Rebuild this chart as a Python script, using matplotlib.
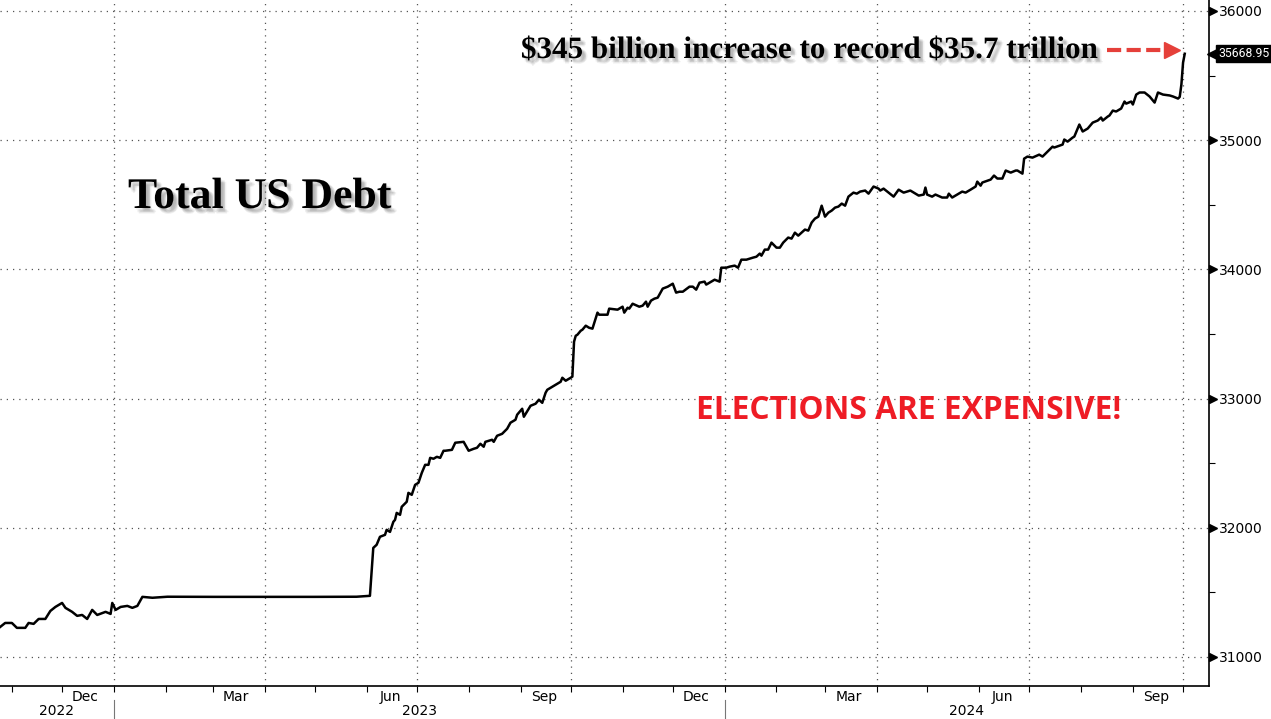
import numpy as np
import pandas as pd
import matplotlib
matplotlib.use("Agg")
import matplotlib.pyplot as plt
import matplotlib.dates as mdates
import matplotlib.transforms as mtrans
import matplotlib.patheffects as pe

# ---------------- data (days since 2023-01-01, total US debt in $bn) ----------------
base_date = "2023-01-01"
days = [-68, -65, -61, -58, -53, -51, -48, -45, -41, -38, -35, -31, -29, -25, -22, -19, -16, -13, -10, -5, -2, -1,
        1, 4, 8, 11, 14, 17, 23, 32, 60, 90, 120, 145, 153,
        155, 157, 159, 162, 163, 165, 167, 168, 169, 171, 172, 175, 176, 178, 180, 182, 184, 186, 188, 189, 191,
        193, 195, 197, 198, 202, 204, 209, 212, 215, 217, 219, 221, 222, 226, 227, 229, 232, 235, 237, 240, 241,
        244, 245, 249, 252, 254, 256, 258, 259, 262, 264, 267, 268, 270, 273, 274,
        275, 276, 277, 279, 280, 282, 284, 286, 289, 290, 295, 296, 301, 304, 305, 307, 308, 310, 314, 316, 318,
        319, 321, 323, 325, 326, 328, 331, 332, 334, 336, 338, 340, 344, 346, 348, 350, 353, 354, 357, 359, 362,
        363, 366, 368, 371, 373, 375, 378, 382, 384, 386, 387, 389, 391, 393, 396, 398, 400, 403, 405, 407, 409,
        411, 413, 415, 417, 419, 421, 423, 425, 427, 429, 431, 433, 435, 437, 439, 442, 444, 446, 449, 451, 454,
        457, 458, 460, 463, 466, 469, 472, 476, 481, 484, 485, 486, 489, 491, 495, 498, 499, 501, 504, 507, 509,
        512, 515, 516, 518, 519, 524, 526, 528, 531, 533, 536, 539, 540, 543, 544, 546, 549, 553, 555, 558, 561,
        562, 567, 568, 570, 573, 574, 577, 579, 582, 585, 588, 590, 591, 594, 595, 597, 599, 602, 604, 605, 608,
        609, 611, 613, 616, 619, 622, 624, 627, 631, 633, 636, 637, 638, 639, 640]
debt = [31232, 31263, 31263, 31225, 31225, 31263, 31256, 31294, 31294, 31356, 31387, 31418, 31380, 31349, 31318,
        31325, 31294, 31364, 31325, 31349, 31333, 31418,
        31364, 31387, 31395, 31380, 31395, 31465, 31458, 31466, 31465, 31465, 31465, 31466, 31473,
        31844, 31868, 31930, 31945, 31984, 31968, 32046, 32061, 32115, 32100, 32162, 32201, 32270, 32255, 32332,
        32348, 32425, 32487, 32487, 32541, 32534,
        32549, 32541, 32596, 32596, 32603, 32658, 32665, 32596, 32611, 32619, 32650, 32627, 32665, 32681, 32665,
        32712, 32727, 32766, 32813, 32836, 32875,
        32921, 32859, 32944, 32960, 32991, 32967, 33045, 33068, 33091, 33107, 33130, 33161, 33138, 33161, 33170,
        33440, 33486, 33494, 33525, 33533, 33564, 33548, 33541, 33665, 33649, 33649, 33696, 33688, 33711, 33665,
        33703, 33696, 33734, 33711, 33719, 33750,
        33711, 33758, 33773, 33781, 33804, 33851, 33866, 33874, 33889, 33820, 33827, 33827, 33866, 33866, 33843,
        33897, 33905, 33882, 33905, 33920, 33905,
        34013, 34013, 34021, 34029, 34013, 34075, 34075, 34091, 34098, 34122, 34106, 34153, 34153, 34207, 34168,
        34168, 34207, 34246, 34238, 34284, 34261,
        34284, 34308, 34300, 34362, 34393, 34408, 34493, 34408, 34439, 34455, 34478, 34486, 34509, 34493, 34563,
        34594, 34586, 34602, 34610, 34586, 34641,
        34625, 34610, 34625, 34594, 34563, 34617, 34594, 34610, 34571, 34579, 34633, 34579, 34563, 34579, 34556,
        34556, 34586, 34556, 34579, 34602, 34594,
        34617, 34641, 34679, 34648, 34672, 34695, 34726, 34703, 34703, 34765, 34749, 34765, 34765, 34741, 34857,
        34873, 34865, 34888, 34873, 34912, 34950,
        34943, 34966, 35005, 34989, 35020, 35028, 35121, 35067, 35090, 35136, 35152, 35175, 35152, 35183, 35191,
        35229, 35222, 35245, 35299, 35283, 35299,
        35276, 35353, 35369, 35369, 35338, 35291, 35369, 35353, 35346, 35338, 35322, 35335, 35431, 35601, 35668.95]
assert len(days) == len(debt)

y_ticks = [31000, 32000, 33000, 34000, 35000, 36000]
y_minor = [31500, 32500, 33500, 34500, 35500]
last_label = "35668.95"
title_text = "Total US Debt"
note_text = "\\$345 billion increase to record \\$35.7 trillion"
slogan_text = "ELECTIONS ARE EXPENSIVE!"
years = ["2022", "2023", "2024"]

# ---------------- figure ----------------
W, H = 1271, 719
fig = plt.figure(figsize=(W / 100, H / 100), dpi=100)
ax_left, ax_right, ax_bottom_px = 0, 1209, 686
ax = fig.add_axes([ax_left / W, 1 - ax_bottom_px / H, (ax_right - ax_left) / W, ax_bottom_px / H])

start = pd.Timestamp(base_date)
dates = start + pd.to_timedelta(days, unit="D")
ax.plot(dates, debt, color="black", lw=1.8, solid_joinstyle="round", zorder=5)

xmin = start + pd.Timedelta(days=-68.1)
xmax = start + pd.Timedelta(days=654.5)
ax.set_xlim(xmin, xmax)
ax.set_ylim(30775, 36085)

# spines
for s in ["left", "top"]:
    ax.spines[s].set_visible(False)
for s in ["bottom", "right"]:
    ax.spines[s].set_color("black")
    ax.spines[s].set_linewidth(1.2)

grid_kw = dict(color="#555555", lw=0.9, ls=(0, (1, 4)), zorder=1)
for v in y_ticks:
    ax.axhline(v, **grid_kw)
quarters = pd.date_range("2023-01-01", "2024-10-01", freq="QS")
for q in quarters:
    ax.axvline(q, **grid_kw)

# x axis ticks
ax.xaxis.set_major_locator(mdates.MonthLocator())
ax.xaxis.set_major_formatter(plt.NullFormatter())
ax.xaxis.set_minor_locator(mdates.MonthLocator(bymonth=[3, 6, 9, 12], bymonthday=15))
ax.xaxis.set_minor_formatter(mdates.DateFormatter("%b"))
ax.tick_params(axis="x", which="major", direction="out", length=4, width=0.8, color="black")
ax.tick_params(axis="x", which="minor", length=0, pad=3, labelsize=10)

# year labels
xtrans = ax.get_xaxis_transform()
year_bounds = [xmin, pd.Timestamp("2023-01-01"), pd.Timestamp("2024-01-01"), xmax]
for i, yr in enumerate(years):
    mid = year_bounds[i] + (year_bounds[i + 1] - year_bounds[i]) / 2
    ax.text(mid, -0.037, yr, transform=xtrans, ha="center", va="center", fontsize=10, clip_on=False)
for b in year_bounds[1:3]:
    ax.plot([b, b], [-0.02, -0.05], transform=xtrans, color="#777777", lw=0.8, clip_on=False)

# y axis on the right
ax.yaxis.tick_right()
ax.set_yticks(y_ticks)
ax.set_yticks(y_minor, minor=True)
ax.yaxis.set_minor_formatter(plt.NullFormatter())
ax.tick_params(axis="y", which="major", length=0, pad=7, labelsize=10)
ax.tick_params(axis="y", which="minor", direction="out", length=4, width=0.8, color="black")

ytrans = ax.get_yaxis_transform()
tri_trans = mtrans.offset_copy(ytrans, fig=fig, x=4, y=0, units="dots")
ax.plot([1.0] * len(y_ticks), y_ticks, transform=tri_trans, marker=">", ms=6, ls="none",
        color="black", clip_on=False)

# last value tag
last_val = debt[-1]
ax.plot([1.0], [last_val], transform=mtrans.offset_copy(ytrans, fig=fig, x=5, y=0, units="dots"),
        marker="<", ms=10, ls="none", color="black", clip_on=False)
ax.text(1.0, last_val, last_label, transform=mtrans.offset_copy(ytrans, fig=fig, x=9, y=0, units="dots"),
        ha="left", va="center", color="white", fontsize=8.8, family="Roboto",
        bbox=dict(boxstyle="square,pad=0.15", fc="black", ec="black"), clip_on=False)

# annotations with soft shadow
shadow = [pe.SimplePatchShadow(offset=o, shadow_rgbFace="#666666", alpha=0.09)
          for o in [(1, -1), (2, -2), (3, -3), (2, -3), (3, -2), (4, -3), (3, -4)]] + [pe.Normal()]
ax.text(128 / 1209, 1 - 208 / 686, title_text, transform=ax.transAxes, ha="left", va="baseline",
        fontsize=31.5, fontweight="bold", family="Liberation Serif", color="black",
        path_effects=shadow, zorder=6)
ax.text(1098 / 1209, 1 - 58 / 686, note_text, transform=ax.transAxes, ha="right", va="baseline",
        fontsize=22.4, fontweight="bold", family="Liberation Serif", color="black",
        path_effects=shadow, zorder=6)
ax.text(696 / 1209, 1 - 419 / 686, slogan_text, transform=ax.transAxes, ha="left", va="baseline",
        fontsize=22.8, fontweight="bold", family="Open Sans", color="#ee1c25", zorder=6)

# red dashed arrow
arrow_y = 1 - 50 / 686
ax.plot([1107 / 1209, 1166 / 1209], [arrow_y, arrow_y], transform=ax.transAxes, color="#e5403a",
        lw=3, dashes=(3.4, 1.3), solid_capstyle="butt", clip_on=False, zorder=6)
ax.plot([1172 / 1209], [arrow_y], transform=ax.transAxes, marker=">", ms=11, color="#e5403a",
        ls="none", clip_on=False, zorder=6)

fig.savefig("out.png", dpi=100, facecolor="white")
